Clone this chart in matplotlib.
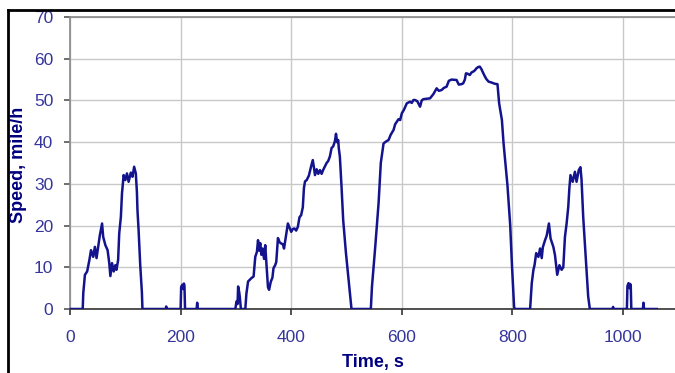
import matplotlib
matplotlib.use("Agg")
import matplotlib.pyplot as plt
from matplotlib.lines import Line2D

plt.rcParams['font.family'] = ['Liberation Sans', 'DejaVu Sans']

# drive cycle trace, time in s, speed in mile/h
time_s = [0, 23, 24, 27, 31, 35, 38, 42, 45, 48, 51, 54, 58, 60, 64, 68, 71, 73, 76, 79,
          82, 84, 87, 89, 92, 94, 97, 100, 103, 106, 110, 113, 116, 119, 121, 122, 124, 127, 130, 131,
          173, 174, 175, 200, 201, 203, 205, 206, 207, 208, 229, 230, 231,
          299, 301, 303, 304, 306, 307, 309, 317, 319, 322, 325, 328, 332, 335, 338, 340, 342,
          344, 346, 348, 351, 353, 355, 357, 358, 360, 363, 366, 368, 371, 373, 376, 379, 382, 385,
          387, 390, 394, 397, 400, 403, 406, 409, 412, 415, 418, 421, 423, 425, 428, 432, 436, 439,
          441, 443, 446, 449, 452, 455, 458, 461, 464, 467, 470, 473, 476, 479, 481, 483, 485, 486,
          488, 491, 494, 499, 505, 509,
          544, 546, 552, 558, 562, 567, 572, 576, 580, 585, 588, 591, 594, 597, 600, 604, 609, 612,
          615, 618, 621, 624, 628, 633, 636, 639, 645, 651, 657, 663, 667, 672, 676, 681, 685, 690,
          699, 703, 708, 711, 714, 716, 719, 723, 726, 729, 732, 735, 738, 741, 744, 746, 750, 753,
          757, 762, 768, 773, 776, 781, 784, 788, 791, 796, 799, 803, 804,
          832, 835, 838, 840, 843, 847, 850, 853, 855, 859, 862, 866, 869, 874, 877, 881, 885, 889,
          892, 895, 898, 901, 903, 905, 909, 913, 916, 920, 923, 925, 928, 933, 937, 940,
          981, 982, 983, 1007, 1008, 1010, 1012, 1013, 1014, 1015, 1036, 1037, 1038, 1061]
speed_mph = [0, 0, 3.8, 8.2, 9, 11.7, 14.1, 12.5, 14.9, 12.2, 14.9, 17.7, 20.5, 17.3, 15.3, 14.1, 11, 7.9, 11, 9,
             10.5, 9.4, 11.7, 18.1, 22.1, 27.7, 32.1, 30.9, 32.5, 30.5, 32.7, 31.7, 34.1, 32.5, 28, 23.7, 19, 10.5, 4, 0,
             0, 0.6, 0, 0, 5.3, 5.8, 4.8, 6.1, 5.5, 0, 0, 1.5, 0,
             0, 1.8, 1.2, 5.4, 4.0, 3.0, 0, 0, 3.7, 6.6, 7.0, 7.4, 7.8, 12.5, 13.7, 16.5, 14.0,
             15.8, 13.0, 14.5, 12.0, 15.3, 11.3, 7.0, 5.2, 4.6, 6.5, 7.5, 9.8, 10.5, 11.3, 17, 16, 15.7, 15.5,
             14.5, 17, 20.5, 19.5, 18.5, 19.2, 19.3, 18.8, 19.7, 22, 22.5, 24.4, 29, 30.6, 30.9, 32, 34.2, 35.7,
             34, 32.1, 33.5, 32.4, 33.3, 32.4, 33.4, 34.2, 35, 35.5, 36.6, 38.6, 39, 40.2, 42, 40, 40.5, 38.6,
             36.5, 29.3, 21.3, 13.4, 5.3, 0,
             0, 5.3, 15, 25.4, 35, 39.7, 40.2, 40.5, 41.8, 42.9, 44.3, 44.9, 45.5, 45.3, 46.9, 47.8, 49.3, 49.5,
             49.7, 49.4, 50.1, 50.1, 49.8, 48.5, 50, 50.3, 50.4, 50.5, 51.5, 52.9, 52.3, 52.5, 53, 53.3, 54.7, 55,
             54.9, 53.8, 53.9, 54.1, 55, 56.5, 56.4, 56.1, 56.7, 56.9, 57.2, 57.7, 58, 58.1, 57.5, 56.9, 55.8, 55.1,
             54.5, 54.3, 54, 53.9, 49.3, 45.3, 39.7, 34.1, 29.7, 20.1, 11, 0.6, 0,
             0, 6.2, 9.4, 10.5, 13.4, 12.5, 14.5, 12.2, 14.8, 16.5, 17.6, 20.5, 16.9, 14.9, 12.9, 8.2, 10.5, 9.4,
             10, 17.3, 20.5, 24.5, 29, 32.1, 30.5, 32.9, 30.5, 33.3, 34, 31, 22.1, 11.7, 3, 0,
             0, 0.5, 0, 0, 5.5, 6.2, 5.0, 6.0, 5.5, 0, 0, 1.5, 0, 0]

x_ticks = [0, 200, 400, 600, 800, 1000]
y_ticks = [0, 10, 20, 30, 40, 50, 60, 70]

label_col = '#000080'
tick_col = '#35359c'

fig = plt.figure(figsize=(6.75, 3.73), dpi=100)
ax = fig.add_axes([70 / 675, 64 / 373, 1 - 70 / 675, 292 / 373])

ax.plot(time_s, speed_mph, color='#13138e', lw=1.8, zorder=3)

ax.set_xlim(0, 1094)
ax.set_ylim(0, 70)
ax.set_xticks(x_ticks)
ax.set_yticks(y_ticks)
ax.grid(True, color='#c8c8c8', lw=1.0)
ax.set_axisbelow(True)

for side in ('left', 'top'):
    ax.spines[side].set_color('#888888')
    ax.spines[side].set_linewidth(1.2)
ax.spines['bottom'].set_color('#333333')
ax.spines['bottom'].set_linewidth(1.2)
ax.spines['right'].set_visible(False)

ax.tick_params(axis='x', direction='out', length=4, width=1.2, color='#333333',
               pad=11, labelsize=12.5, labelcolor=tick_col)
ax.tick_params(axis='y', direction='out', length=4, width=1.2, color='#555555',
               pad=8, labelsize=12.5, labelcolor=tick_col)

fig.text(19 / 675, 1 - 165 / 373, 'Speed, mile/h', rotation=90, ha='center', va='center',
         fontsize=13, fontweight='bold', color=label_col)
fig.text(373 / 675, 6 / 373, 'Time, s', ha='center', va='baseline',
         fontsize=13, fontweight='bold', color=label_col)

# outer chart border (top and left edges only show)
fig.add_artist(Line2D([8 / 675, 8 / 675], [0, 1 - 10 / 373], transform=fig.transFigure,
                      color='black', lw=2))
fig.add_artist(Line2D([8 / 675, 1], [1 - 10 / 373, 1 - 10 / 373], transform=fig.transFigure,
                      color='black', lw=2))

fig.savefig('out.png', dpi=100)
